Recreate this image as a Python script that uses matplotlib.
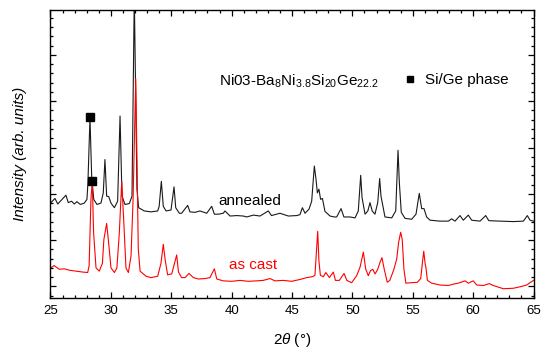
import matplotlib
matplotlib.use('Agg')
from matplotlib import pyplot as plt
from matplotlib.lines import Line2D
from matplotlib.ticker import MultipleLocator, NullFormatter

plt.rcParams['font.family'] = ['Liberation Sans', 'DejaVu Sans']
plt.rcParams['mathtext.fontset'] = 'custom'
plt.rcParams['mathtext.rm'] = 'Liberation Sans'
plt.rcParams['mathtext.it'] = 'Liberation Sans:italic'

# annealed pattern (black)
annealed_2theta = [
    25.04, 25.37, 25.6, 26.28, 26.47, 26.75, 26.97, 27.19, 27.47, 27.8,
    28.02, 28.1, 28.27, 28.41, 28.58, 28.85, 29.18, 29.37, 29.51, 29.65,
    29.82, 30.01, 30.29, 30.56, 30.76, 30.92, 31.17, 31.53, 31.75, 31.94,
    32.16, 32.3, 32.77, 33.32, 33.88, 34.0, 34.18, 34.34, 34.57, 34.98,
    35.23, 35.37, 35.67, 35.86, 36.36, 36.55, 36.97, 37.38, 37.94, 38.35,
    38.57, 38.9, 39.31, 39.45, 39.87, 40.42, 40.97, 41.25, 41.8, 42.35,
    43.04, 43.3, 44.0, 44.7, 45.39, 45.66, 45.86, 46.08, 46.41, 46.63,
    46.85, 46.99, 47.1, 47.23, 47.37, 47.52, 47.73, 48.15, 48.5, 48.7,
    49.06, 49.3, 49.8, 50.22, 50.49, 50.69, 50.8, 51.05, 51.28, 51.46,
    51.64, 51.87, 52.1, 52.26, 52.37, 52.7, 53.26, 53.59, 53.78, 53.89,
    54.05, 54.36, 54.91, 55.27, 55.54, 55.74, 55.93, 56.15, 56.43, 57.26,
    57.95, 58.22, 58.5, 58.91, 59.19, 59.6, 59.88, 60.57, 61.04, 61.3,
    62.23, 63.33, 64.16, 64.49, 64.71, 65.0]
annealed_int = [
    1.81, 1.90, 1.78, 1.97, 1.81, 1.84, 1.78, 1.83, 1.77, 1.80,
    1.88, 2.24, 3.64, 2.38, 1.88, 1.77, 1.80, 2.02, 2.74, 1.95,
    1.94, 1.80, 1.70, 1.84, 3.68, 1.95, 1.77, 1.79, 1.95, 6.30,
    2.10, 1.70, 1.63, 1.61, 1.63, 1.73, 2.27, 1.73, 1.63, 1.65,
    2.15, 1.70, 1.58, 1.58, 1.75, 1.61, 1.60, 1.63, 1.58, 1.73,
    1.56, 1.56, 1.58, 1.63, 1.52, 1.53, 1.52, 1.50, 1.54, 1.52,
    1.63, 1.53, 1.58, 1.52, 1.53, 1.55, 1.70, 1.58, 1.67, 1.84,
    2.60, 2.31, 2.02, 2.10, 1.88, 1.90, 1.62, 1.52, 1.50, 1.50,
    1.68, 1.50, 1.50, 1.48, 1.63, 2.40, 1.92, 1.56, 1.63, 1.81,
    1.63, 1.56, 1.81, 2.33, 1.95, 1.50, 1.48, 1.63, 2.94, 2.24,
    1.60, 1.47, 1.45, 1.56, 2.01, 1.68, 1.68, 1.50, 1.43, 1.41,
    1.41, 1.46, 1.41, 1.53, 1.43, 1.54, 1.43, 1.41, 1.53, 1.42,
    1.41, 1.40, 1.41, 1.53, 1.43, 1.41]

# as cast pattern (red)
ascast_2theta = [
    25.04, 25.3, 25.73, 26.14, 26.56, 27.11, 27.67, 28.08, 28.2, 28.35,
    28.46, 28.57, 28.77, 29.04, 29.3, 29.42, 29.65, 29.79, 30.01, 30.29,
    30.5, 30.7, 30.9, 31.06, 31.25, 31.45, 31.67, 31.84, 32.06, 32.17,
    32.27, 32.42, 32.91, 33.32, 33.88, 34.15, 34.34, 34.5, 34.7, 35.04,
    35.27, 35.45, 35.6, 35.86, 36.14, 36.47, 36.83, 37.24, 37.8, 38.21,
    38.57, 38.77, 39.31, 40.0, 40.7, 41.38, 42.07, 42.62, 43.18, 43.59,
    44.28, 44.97, 45.66, 46.22, 46.69, 46.9, 47.13, 47.23, 47.35, 47.6,
    47.8, 48.1, 48.42, 48.6, 48.92, 49.31, 49.54, 49.94, 50.35, 50.63,
    50.91, 51.1, 51.32, 51.5, 51.69, 51.88, 52.1, 52.29, 52.45, 52.64,
    52.89, 53.1, 53.44, 53.67, 53.83, 54.0, 54.13, 54.27, 54.43, 54.91,
    55.38, 55.66, 55.82, 55.91, 56.02, 56.1, 56.21, 56.57, 57.26, 57.95,
    58.37, 58.78, 59.33, 59.6, 60.01, 60.3, 60.85, 61.34, 61.67, 62.5,
    63.33, 64.02, 64.43, 64.71, 65.0]
ascast_int = [
    0.40, 0.45, 0.37, 0.38, 0.35, 0.33, 0.31, 0.30, 0.45, 1.88,
    2.27, 1.16, 0.40, 0.33, 0.50, 1.01, 1.36, 1.01, 0.40, 0.30,
    0.40, 1.16, 2.27, 1.45, 0.40, 0.30, 0.66, 1.88, 4.49, 2.60,
    0.81, 0.33, 0.22, 0.19, 0.22, 0.50, 0.91, 0.57, 0.25, 0.27,
    0.50, 0.68, 0.31, 0.19, 0.19, 0.28, 0.19, 0.16, 0.17, 0.19,
    0.38, 0.16, 0.12, 0.11, 0.13, 0.11, 0.12, 0.13, 0.17, 0.12,
    0.13, 0.11, 0.15, 0.19, 0.21, 0.24, 1.19, 0.55, 0.24, 0.21,
    0.30, 0.19, 0.31, 0.13, 0.13, 0.28, 0.13, 0.08, 0.23, 0.41,
    0.74, 0.38, 0.23, 0.34, 0.37, 0.27, 0.37, 0.52, 0.62, 0.37,
    0.09, 0.13, 0.37, 0.59, 0.95, 1.17, 1.01, 0.37, 0.07, 0.08,
    0.09, 0.17, 0.56, 0.76, 0.50, 0.39, 0.13, 0.07, 0.03, 0.02,
    0.05, 0.07, 0.12, 0.07, 0.12, 0.03, 0.02, 0.06, 0.02, -0.05,
    -0.04, 0.00, 0.03, 0.08, 0.13]

# Si/Ge phase markers
sige_2theta = [28.27, 28.46]
sige_int = [3.66, 2.27]

fig = plt.figure(figsize=(5.5, 3.57), dpi=100)
ax = fig.add_axes([0.0918, 0.1653, 0.8782, 0.8067])

ax.plot(annealed_2theta, annealed_int, color='#1a1a1a', lw=0.8)
ax.plot(ascast_2theta, ascast_int, color='#ff0000', lw=0.8)
ax.plot(sige_2theta, sige_int, 's', color='black', ms=5.5, ls='none')

ax.set_xlim(25, 65)
ax.set_ylim(-0.25, 5.97)
ax.xaxis.set_major_locator(MultipleLocator(5))
ax.xaxis.set_minor_locator(MultipleLocator(1))
ax.yaxis.set_major_locator(MultipleLocator(1))
ax.yaxis.set_minor_locator(MultipleLocator(0.2))
ax.yaxis.set_major_formatter(NullFormatter())
ax.tick_params(which='both', direction='in', top=True, right=True, width=0.9)
ax.tick_params(which='major', length=4.5, labelsize=9.5, pad=5)
ax.tick_params(which='minor', length=2.5)
for s in ax.spines.values():
    s.set_linewidth(1.0)

ax.set_xlabel(r'2$\theta$ (°)', fontsize=11, labelpad=10)
ax.set_ylabel('Intensity (arb. units)', fontsize=11, style='italic', labelpad=12)

ax.text(38.95, 4.42, r'Ni03-Ba$_8$Ni$_{3.8}$Si$_{20}$Ge$_{22.2}$', fontsize=11, va='center')
ax.text(41.5, 1.84, 'annealed', fontsize=11, ha='center', va='center')
ax.text(41.8, 0.47, 'as cast', fontsize=11, ha='center', va='center', color='#ff0000')

handle = Line2D([], [], marker='s', color='black', ls='none', ms=5)
ax.legend([handle], ['Si/Ge phase'], loc='center left', bbox_to_anchor=(0.732, 0.757),
          frameon=False, fontsize=11, handlelength=0.8, handletextpad=0.6,
          borderpad=0, borderaxespad=0)

fig.savefig('out.png', dpi=100)
